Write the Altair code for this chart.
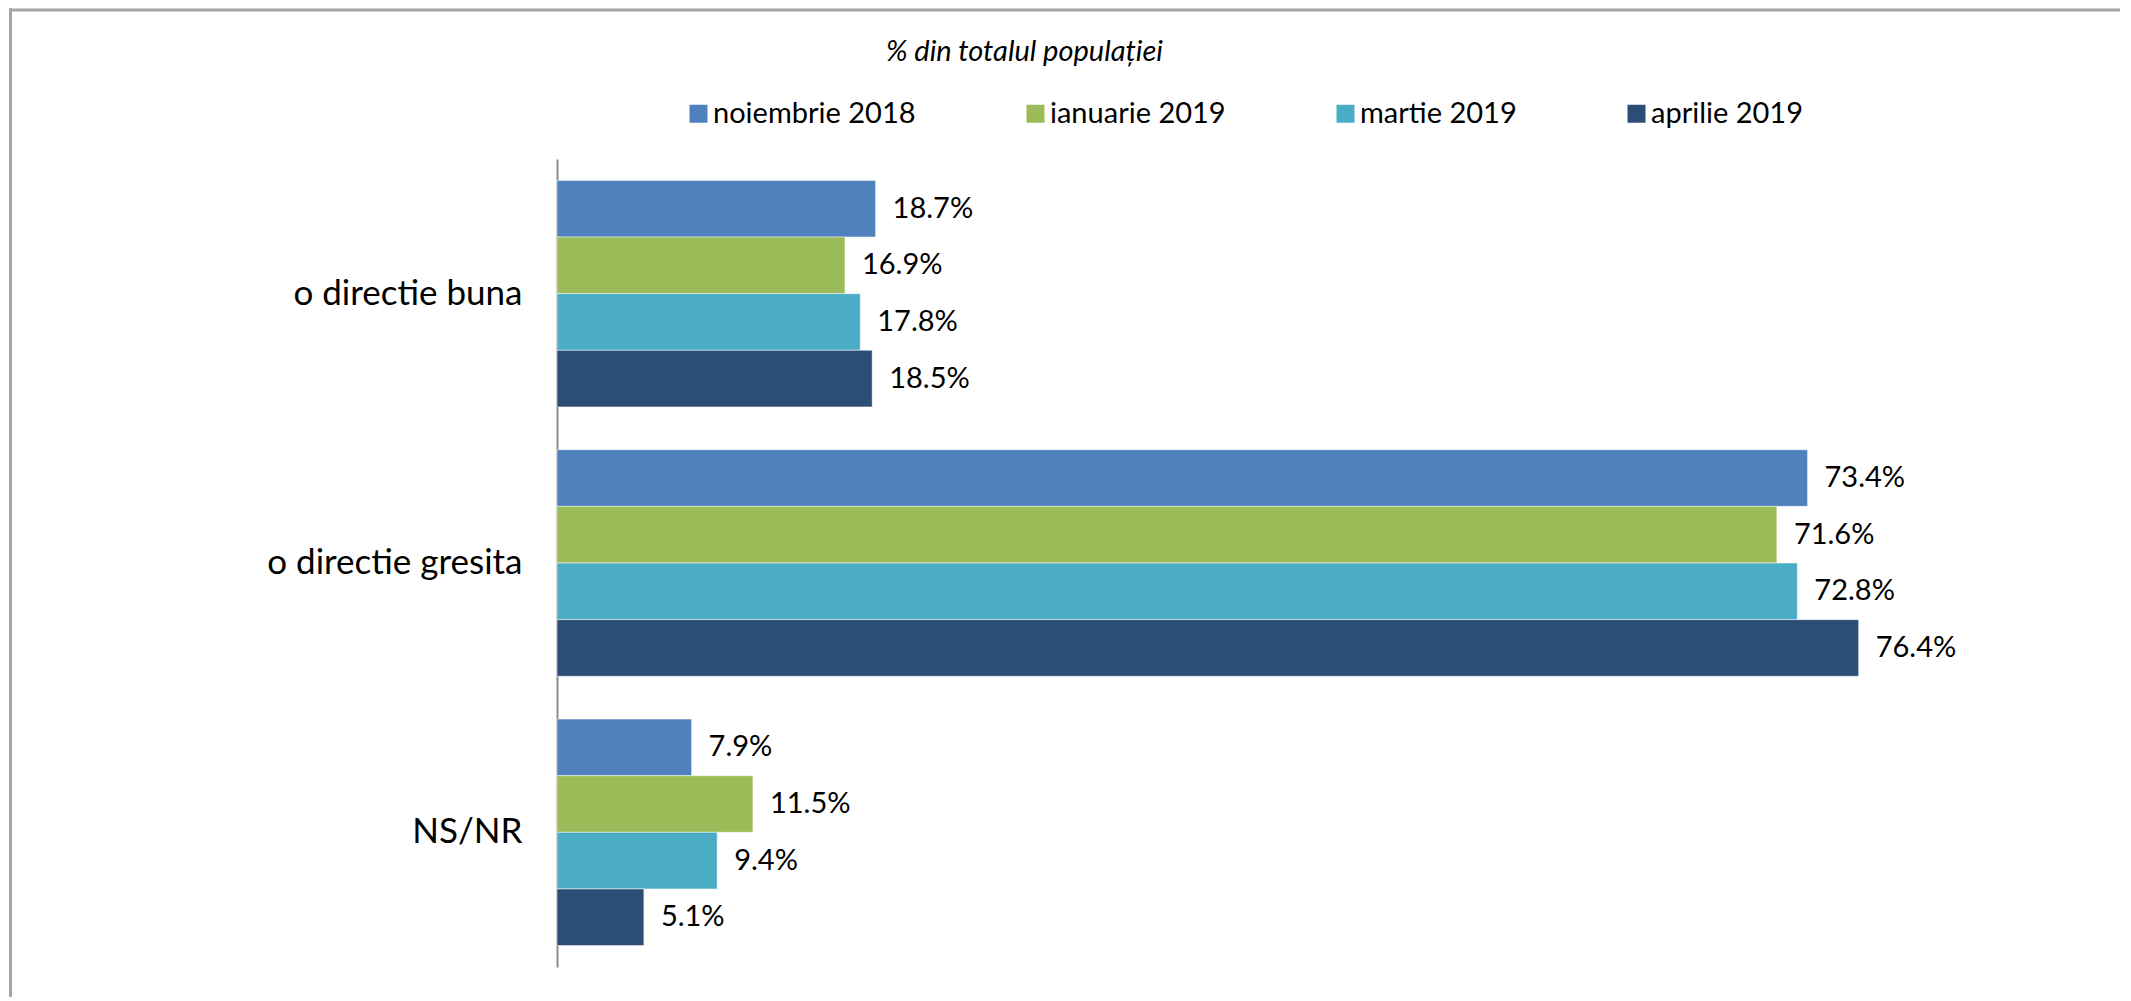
import altair as alt
import pandas as pd

categories = ["o directie buna", "o directie gresita", "NS/NR"]
series = ["noiembrie 2018", "ianuarie 2019", "martie 2019", "aprilie 2019"]
colors = ["#4F81BD", "#9BBB59", "#4BACC6", "#2C4D75"]
values = {
    "noiembrie 2018": [18.7, 73.4, 7.9],
    "ianuarie 2019": [16.9, 71.6, 11.5],
    "martie 2019": [17.8, 72.8, 9.4],
    "aprilie 2019": [18.5, 76.4, 5.1],
}
title_text = "% din totalul populației"

rows = []
for s in series:
    for c, v in zip(categories, values[s]):
        rows.append({"cat": c, "series": s, "value": v})
df = pd.DataFrame(rows)

FONT = "Lato"
W, H = 1363, 808

y_enc = alt.Y(
    "cat:N",
    sort=categories,
    scale=alt.Scale(paddingInner=0.159, paddingOuter=0.0795),
    axis=alt.Axis(
        title=None,
        domain=True,
        domainColor="#8c8c8c",
        domainWidth=2,
        ticks=False,
        tickSize=0,
        grid=False,
        labelPadding=35,
        labelFontSize=35,
        labelFont=FONT,
        labelColor="#000000",
        labelLimit=0,
    ),
)
yoff = alt.YOffset("series:N", sort=series, scale=alt.Scale(paddingInner=0, paddingOuter=0))
x_enc = alt.X("value:Q", scale=alt.Scale(domain=[0, 80], nice=False, zero=True), axis=None)

base = alt.Chart(df)

bars = base.mark_bar(stroke="white", strokeWidth=1, strokeOpacity=0.5).encode(
    y=y_enc,
    yOffset=yoff,
    x=x_enc,
    color=alt.Color(
        "series:N",
        sort=series,
        scale=alt.Scale(domain=series, range=colors),
        legend=alt.Legend(
            title=None,
            orient="none",
            direction="horizontal",
            columns=4,
            legendX=127,
            legendY=-60,
            symbolType="square",
            symbolSize=324,
            symbolStrokeWidth=0,
            labelFont=FONT,
            labelFontSize=29,
            labelColor="#000000",
            labelOffset=0,
            labelLimit=0,
            columnPadding=105,
            padding=0,
        ),
    ),
)

labels = base.mark_text(
    align="left", baseline="middle", dx=17, font=FONT, fontSize=29, color="#000000"
).transform_calculate(label="format(datum.value, '.1f') + '%'").encode(
    y=alt.Y("cat:N", sort=categories),
    yOffset=alt.YOffset("series:N", sort=series),
    x=alt.X("value:Q"),
    text="label:N",
)

frame_df = pd.DataFrame({"k": [0]})
top_line = alt.Chart(frame_df).mark_rule(color="#a6a6a6", strokeWidth=3).encode(
    x=alt.value(-548), x2=alt.value(1600), y=alt.value(-149)
)
left_line = alt.Chart(frame_df).mark_rule(color="#a6a6a6", strokeWidth=3).encode(
    x=alt.value(-546.5), y=alt.value(-152), y2=alt.value(900)
)

chart = (
    alt.layer(bars, labels, top_line, left_line)
    .properties(
        width=W,
        height=H,
        background="white",
        autosize=alt.AutoSizeParams(type="none"),
        padding={"left": 549, "top": 151, "right": 200, "bottom": 30},
        title=alt.TitleParams(
            text=title_text,
            font=FONT,
            fontSize=29,
            fontStyle="italic",
            fontWeight="normal",
            color="#000000",
            anchor="start",
            frame="group",
            baseline="alphabetic",
            dx=329,
            dy=84,
            offset=0,
        ),
    )
    .configure_view(strokeWidth=0, stroke="transparent")
)

chart.save("out.html", embed_options={"renderer": "svg", "actions": False})
